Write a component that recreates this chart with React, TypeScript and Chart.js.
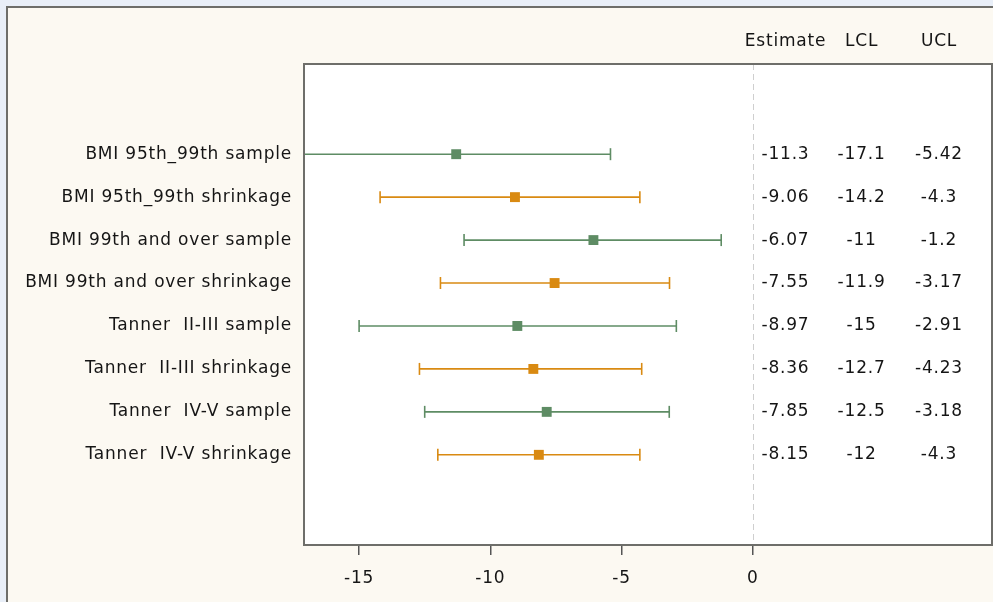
import React, { useEffect, useRef } from "react";
import { Chart, registerables } from "chart.js";

Chart.register(...registerables);

const labels = [
  "BMI 95th_99th sample",
  "BMI 95th_99th shrinkage",
  "BMI 99th and over sample",
  "BMI 99th and over shrinkage",
  "Tanner  II-III sample",
  "Tanner  II-III shrinkage",
  "Tanner  IV-V sample",
  "Tanner  IV-V shrinkage",
];
const estimates = [-11.3, -9.06, -6.07, -7.55, -8.97, -8.36, -7.85, -8.15];
const lcl = [-17.1, -14.2, -11, -11.9, -15, -12.7, -12.5, -12];
const ucl = [-5.42, -4.3, -1.2, -3.17, -2.91, -4.23, -3.18, -4.3];
const estText = ["-11.3", "-9.06", "-6.07", "-7.55", "-8.97", "-8.36", "-7.85", "-8.15"];
const lclText = ["-17.1", "-14.2", "-11", "-11.9", "-15", "-12.7", "-12.5", "-12"];
const uclText = ["-5.42", "-4.3", "-1.2", "-3.17", "-2.91", "-4.23", "-3.18", "-4.3"];
const xTicks = [-15, -10, -5, 0];
const columnHeaders = ["Estimate", "LCL", "UCL"];
const columnX = [1.25, 4.15, 7.1];

const GREEN = "#5e8c64";
const ORANGE = "#d98a12";
const FONT = "'DejaVu Sans', Verdana, sans-serif";
const FS = 17;
const SPACING = "0.8px";

export default function App() {
  const ref = useRef<HTMLCanvasElement>(null);
  useEffect(() => {
    const canvas = ref.current!;
    const colorOf = (i: number) => (i % 2 === 0 ? GREEN : ORANGE);

    const datasets: any[] = [];
    labels.forEach((_, i) => {
      datasets.push({
        type: "line",
        data: [
          { x: lcl[i], y: i },
          { x: ucl[i], y: i },
        ],
        borderColor: colorOf(i),
        borderWidth: 1.6,
        pointStyle: "line",
        rotation: 90,
        pointRadius: 6,
        pointBorderWidth: 1.6,
        pointBorderColor: colorOf(i),
        showLine: true,
        fill: false,
        clip: false,
      });
    });
    datasets.push({
      type: "scatter",
      data: estimates.map((v, i) => ({ x: v, y: i })),
      pointStyle: "rect",
      pointRadius: 7,
      backgroundColor: estimates.map((_, i) => colorOf(i)),
      borderColor: estimates.map((_, i) => colorOf(i)),
      borderWidth: 0,
    });

    const framePlugin = {
      id: "frame",
      beforeInit(chart: any) {
        (chart.ctx as any).letterSpacing = SPACING;
      },
      beforeDraw(chart: any) {
        const ctx = chart.ctx;
        (ctx as any).letterSpacing = SPACING;
        const { left, top, right, bottom } = chart.chartArea;
        ctx.save();
        ctx.fillStyle = "#e9eff8";
        ctx.fillRect(0, 0, chart.width, chart.height);
        ctx.fillStyle = "#fcf9f2";
        ctx.fillRect(7, 7, chart.width, chart.height);
        ctx.strokeStyle = "#6e6e6a";
        ctx.lineWidth = 2;
        ctx.strokeRect(7, 7, chart.width + 10, chart.height + 10);
        ctx.fillStyle = "#ffffff";
        ctx.fillRect(left, top, right - left, bottom - top);
        const xs = chart.scales.x;
        const x0 = Math.round(xs.getPixelForValue(0)) + 0.5;
        ctx.strokeStyle = "#cfcfcf";
        ctx.lineWidth = 1;
        ctx.setLineDash([6, 4]);
        ctx.beginPath();
        ctx.moveTo(x0, top);
        ctx.lineTo(x0, bottom);
        ctx.stroke();
        ctx.restore();
      },
      afterDraw(chart: any) {
        const ctx = chart.ctx;
        const { left, top, right, bottom } = chart.chartArea;
        const xs = chart.scales.x;
        const ys = chart.scales.y;
        ctx.save();
        ctx.strokeStyle = "#6e6e6a";
        ctx.lineWidth = 2;
        ctx.strokeRect(left, top, right - left, bottom - top);
        ctx.fillStyle = "#151515";
        ctx.font = `${FS}px ${FONT}`;
        (ctx as any).letterSpacing = SPACING;
        ctx.textAlign = "center";
        ctx.textBaseline = "middle";
        const cols = [estText, lclText, uclText];
        columnHeaders.forEach((h, c) => {
          ctx.fillText(h, xs.getPixelForValue(columnX[c]), 42);
        });
        labels.forEach((_, i) => {
          const y = ys.getPixelForValue(i);
          cols.forEach((col, c) => {
            ctx.fillText(col[i], xs.getPixelForValue(columnX[c]), y);
          });
        });
        ctx.restore();
      },
    };

    const chart = new Chart(canvas, {
      type: "scatter",
      data: { datasets },
      options: {
        animation: false,
        responsive: false,
        layout: { autoPadding: false, padding: { top: 64, right: 1, left: 0, bottom: 0 } },
        plugins: { legend: { display: false }, tooltip: { enabled: false } },
        scales: {
          x: {
            type: "linear",
            min: -17.1,
            max: 9.12,
            afterBuildTicks: (s: any) => {
              s.ticks = xTicks.map((v) => ({ value: v }));
            },
            afterFit: (s: any) => {
              s.height = 57;
              s.paddingLeft = 0;
              s.paddingRight = 0;
            },
            border: { display: false },
            grid: {
              drawOnChartArea: false,
              drawTicks: true,
              tickLength: 10,
              color: "#555555",
              lineWidth: 1.5,
            },
            ticks: {
              padding: 13,
              color: "#151515",
              font: { family: FONT, size: FS },
              maxRotation: 0,
              autoSkip: false,
            },
          },
          y: {
            type: "linear",
            reverse: true,
            min: -2.1,
            max: 9.1,
            afterBuildTicks: (s: any) => {
              s.ticks = labels.map((_, i) => ({ value: i }));
            },
            afterFit: (s: any) => {
              s.width = 304;
              s.paddingTop = 0;
              s.paddingBottom = 0;
            },
            border: { display: false },
            grid: { display: false, drawTicks: false },
            ticks: {
              padding: 12,
              color: "#151515",
              font: { family: FONT, size: FS },
              autoSkip: false,
              callback: (v: any) => labels[v as number] ?? "",
            },
          },
        },
      },
      plugins: [framePlugin],
    } as any);
    return () => chart.destroy();
  }, []);

  return (
    <div style={{ position: "fixed", left: 0, top: 0, width: 993, height: 602 }}>
      <canvas ref={ref} width={993} height={602} style={{ display: "block" }} />
    </div>
  );
}
